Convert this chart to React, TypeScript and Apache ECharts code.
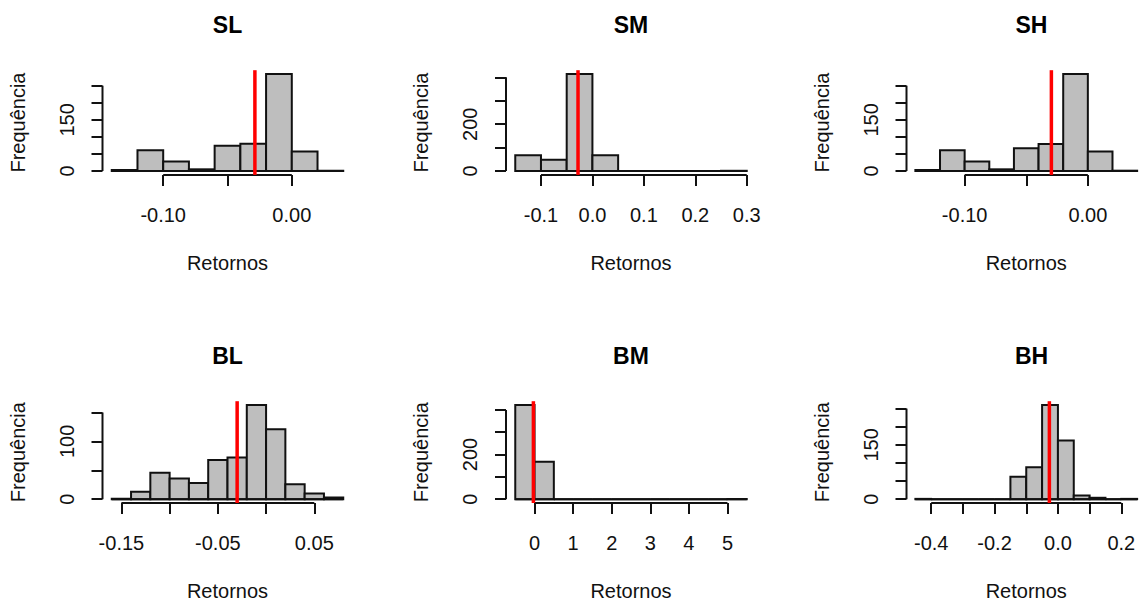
import React, { useEffect, useRef } from "react";
import * as echarts from "echarts";

// ---------- data ----------
const titles = ["SL", "SM", "SH", "BL", "BM", "BH"];

const slBreaks = [-0.14, -0.12, -0.10, -0.08, -0.06, -0.04, -0.02, 0.0, 0.02, 0.04];
const slCounts = [3, 61, 28, 5, 74, 80, 284, 57, 1];
const slMean = -0.0287;
const slXTicks = [-0.10, -0.05, 0.0];
const slXLabels = [-0.10, 0.0];
const slYTicks = [0, 50, 100, 150, 200, 250];
const slYLabels = [0, 150];

const smBreaks = [-0.15, -0.10, -0.05, 0.0, 0.05, 0.10, 0.15, 0.20, 0.25, 0.30];
const smCounts = [67, 48, 414, 67, 0, 0, 0, 0, 1];
const smMean = -0.028;
const smXTicks = [-0.1, 0.0, 0.1, 0.2, 0.3];
const smXLabels = [-0.1, 0.0, 0.1, 0.2, 0.3];
const smYTicks = [0, 100, 200, 300, 400];
const smYLabels = [0, 200];

const shBreaks = [-0.14, -0.12, -0.10, -0.08, -0.06, -0.04, -0.02, 0.0, 0.02, 0.04];
const shCounts = [3, 61, 28, 5, 67, 79, 284, 57, 1];
const shMean = -0.0296;
const shXTicks = [-0.10, -0.05, 0.0];
const shXLabels = [-0.10, 0.0];
const shYTicks = [0, 50, 100, 150, 200, 250];
const shYLabels = [0, 150];

const blBreaks = [-0.16, -0.14, -0.12, -0.10, -0.08, -0.06, -0.04, -0.02, 0.0, 0.02, 0.04, 0.06, 0.08];
const blCounts = [1, 13, 46, 36, 28, 68, 72, 163, 121, 26, 10, 3];
const blMean = -0.030;
const blXTicks = [-0.15, -0.10, -0.05, 0.0, 0.05];
const blXLabels = [-0.15, -0.05, 0.05];
const blYTicks = [0, 50, 100, 150];
const blYLabels = [0, 100];

const bmBreaks = [-0.5, 0, 0.5, 1, 1.5, 2, 2.5, 3, 3.5, 4, 4.5, 5, 5.5];
const bmCounts = [422, 168, 0, 0, 0, 0, 0, 0, 0, 0, 0, 1];
const bmMean = -0.03;
const bmXTicks = [0, 1, 2, 3, 4, 5];
const bmXLabels = [0, 1, 2, 3, 4, 5];
const bmYTicks = [0, 100, 200, 300, 400];
const bmYLabels = [0, 200];

const bhBreaks = [-0.45, -0.40, -0.35, -0.30, -0.25, -0.20, -0.15, -0.10, -0.05, 0.0, 0.05, 0.10, 0.15, 0.20, 0.25];
const bhCounts = [1, 0, 0, 0, 0, 0, 62, 88, 260, 162, 10, 4, 0, 1];
const bhMean = -0.027;
const bhXTicks = [-0.4, -0.3, -0.2, -0.1, 0.0, 0.1, 0.2];
const bhXLabels = [-0.4, -0.2, 0.0, 0.2];
const bhYTicks = [0, 50, 100, 150, 200, 250];
const bhYLabels = [0, 150];

const xDecimals = [2, 1, 2, 2, 0, 1];

const panels = [
  { breaks: slBreaks, counts: slCounts, mean: slMean, xTicks: slXTicks, xLabels: slXLabels, yTicks: slYTicks, yLabels: slYLabels },
  { breaks: smBreaks, counts: smCounts, mean: smMean, xTicks: smXTicks, xLabels: smXLabels, yTicks: smYTicks, yLabels: smYLabels },
  { breaks: shBreaks, counts: shCounts, mean: shMean, xTicks: shXTicks, xLabels: shXLabels, yTicks: shYTicks, yLabels: shYLabels },
  { breaks: blBreaks, counts: blCounts, mean: blMean, xTicks: blXTicks, xLabels: blXLabels, yTicks: blYTicks, yLabels: blYLabels },
  { breaks: bmBreaks, counts: bmCounts, mean: bmMean, xTicks: bmXTicks, xLabels: bmXLabels, yTicks: bmYTicks, yLabels: bmYLabels },
  { breaks: bhBreaks, counts: bhCounts, mean: bhMean, xTicks: bhXTicks, xLabels: bhXLabels, yTicks: bhYTicks, yLabels: bhYLabels },
];

// ---------- layout ----------
const colLefts = [102.5, 506, 906.5];
const rowTops = [70.2, 401.2];
const plotW = 250;
const plotH = 104.7;
const titleY = [25, 356];

const FONT = "'Liberation Sans', Arial, Helvetica, sans-serif";
const INK = "#111";

function buildOption() {
  const grid: any[] = [];
  const xAxis: any[] = [];
  const yAxis: any[] = [];
  const series: any[] = [];
  const graphic: any[] = [];

  panels.forEach((p, i) => {
    const col = i % 3;
    const row = Math.floor(i / 3);
    const left = colLefts[col];
    const top = rowTops[row];
    const b0 = p.breaks[0];
    const b1 = p.breaks[p.breaks.length - 1];
    const xr = b1 - b0;
    const xmin = b0 - 0.04 * xr;
    const xmax = b1 + 0.04 * xr;
    const cmax = Math.max(...p.counts);
    const ymin = -0.04 * cmax;
    const ymax = 1.04 * cmax;
    const dec = xDecimals[i];

    grid.push({ left, top, width: plotW, height: plotH, containLabel: false });

    xAxis.push({
      type: "value",
      gridIndex: i,
      min: xmin,
      max: xmax,
      axisLine: { show: false, onZero: false },
      splitLine: { show: false },
      axisTick: { show: true, customValues: p.xTicks, length: 11, lineStyle: { color: INK, width: 2 } },
      axisLabel: {
        customValues: p.xLabels,
        formatter: (v: number) => Number(v).toFixed(dec),
        fontSize: 20,
        fontFamily: FONT,
        color: INK,
        margin: 30,
      },
      name: "Retornos",
      nameLocation: "middle",
      nameGap: 78,
      nameTextStyle: { fontSize: 20, fontFamily: FONT, color: INK },
    });

    yAxis.push({
      type: "value",
      gridIndex: i,
      min: ymin,
      max: ymax,
      axisLine: { show: false, onZero: false },
      splitLine: { show: false },
      axisTick: { show: true, customValues: p.yTicks, length: 11, lineStyle: { color: INK, width: 2 } },
      axisLabel: {
        customValues: p.yLabels,
        formatter: (v: number) => String(Math.round(v)),
        rotate: 90,
        fontSize: 20,
        fontFamily: FONT,
        color: INK,
        margin: 26,
      },
      name: "Frequência",
      nameLocation: "middle",
      nameRotate: 90,
      nameGap: 75,
      nameTextStyle: { fontSize: 20, fontFamily: FONT, color: INK },
    });

    const barData = p.counts.map((c, j) => [p.breaks[j], p.breaks[j + 1], c]);

    series.push({
      type: "custom",
      xAxisIndex: i,
      yAxisIndex: i,
      silent: true,
      data: barData,
      encode: { x: [0, 1], y: 2 },
      renderItem: (_params: any, api: any) => {
        const a = api.coord([api.value(0), 0]);
        const b = api.coord([api.value(1), api.value(2)]);
        return {
          type: "rect",
          shape: { x: a[0], y: b[1], width: b[0] - a[0], height: a[1] - b[1] },
          style: { fill: "#bebebe", stroke: INK, lineWidth: 2 },
        };
      },
      z: 2,
    });

    const lineBase = { type: "line", xAxisIndex: i, yAxisIndex: i, symbol: "none", silent: true, clip: false, animation: false };

    // baseline of the histogram (zero-count bins drawn as flat boxes)
    series.push({ ...lineBase, data: [[b0, 0], [b1, 0]], lineStyle: { color: INK, width: 2 }, z: 3 });
    // x axis line (first to last tick)
    series.push({ ...lineBase, data: [[p.xTicks[0], ymin], [p.xTicks[p.xTicks.length - 1], ymin]], lineStyle: { color: INK, width: 2 }, z: 3 });
    // y axis line (first to last tick)
    series.push({ ...lineBase, data: [[xmin, p.yTicks[0]], [xmin, p.yTicks[p.yTicks.length - 1]]], lineStyle: { color: INK, width: 2 }, z: 3 });
    // mean line
    series.push({ ...lineBase, data: [[p.mean, ymin], [p.mean, ymax]], lineStyle: { color: "#ff0000", width: 3.5 }, z: 4 });

    graphic.push({
      type: "text",
      x: left + plotW / 2,
      y: titleY[row],
      style: {
        text: titles[i],
        fontSize: 23,
        fontWeight: "bold",
        fontFamily: FONT,
        fill: "#000",
        align: "center",
        verticalAlign: "middle",
      },
    });
  });

  return { animation: false, backgroundColor: "#ffffff", grid, xAxis, yAxis, series, graphic };
}

export default function App() {
  const ref = useRef<HTMLDivElement>(null);
  useEffect(() => {
    document.body.style.margin = "0";
    if (!ref.current) return;
    const chart = echarts.init(ref.current, null, { renderer: "svg" });
    chart.setOption(buildOption());
    return () => chart.dispose();
  }, []);
  return (
    <div
      ref={ref}
      style={{ position: "fixed", left: 0, top: 0, width: 1146, height: 602, background: "#fff" }}
    />
  );
}
